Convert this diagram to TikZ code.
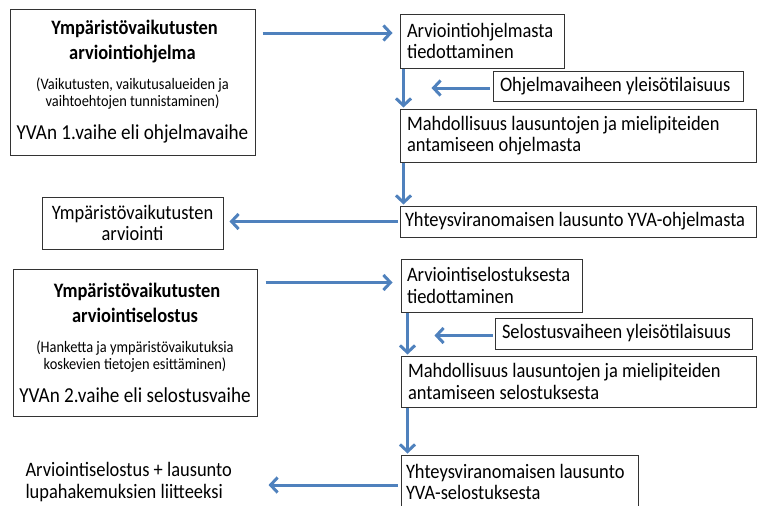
\documentclass[tikz,border=0pt]{standalone}
\usepackage{fontspec}
\setmainfont{Carlito}[FakeStretch=0.9]
\usetikzlibrary{arrows.meta,calc}
\definecolor{arrowblue}{RGB}{79,129,189}

\begin{document}
\begin{tikzpicture}[x=1pt,y=-1pt]
	\tikzset{box/.style = {draw=black!80, line width=1pt, inner xsep=7pt, inner ysep=0pt, align=flush left, font=\fontsize{20.5}{21.5}\selectfont}}
	\tikzset{phase/.style = {box, align=flush center, inner xsep=3pt}}
	\tikzset{flow/.style = {draw=arrowblue, line width=3pt, -{Straight Barb[length=7pt,width=15pt]}}}
	
	\useasboundingbox (0,0) rectangle (758,506);
	
	% phase 1 nodes
	\node[phase, text width=239pt, minimum height=146pt] (A) at (132.5,82) {%
		\vspace{5pt}
		{\fontsize{20.5}{20}\selectfont\bfseries Ympäristövaikutusten\\ arviointiohjelma\par}\vspace{13pt}
		{\fontsize{16}{17}\selectfont (Vaikutusten, vaikutusalueiden ja\\ vaihtoehtojen tunnistaminen)\par}\vspace{11pt}
		{\fontsize{21.3}{22}\selectfont YVAn 1.vaihe eli ohjelmavaihe\par}};
	\node[box, text width=150pt, minimum height=54pt] (B) at (482,41) {Arviointiohjelmasta\\ tiedottaminen};
	\node[box, text width=236pt, minimum height=30pt] (O) at (618,86) {Ohjelmavaiheen yleisötilaisuus};
	\node[box, text width=342pt, minimum height=53pt] (M1) at (578,135.5) {Mahdollisuus lausuntojen ja mielipiteiden\\ antamiseen ohjelmasta};
	\node[box, inner xsep=5pt, text width=346pt, minimum height=31pt] (Y1) at (578,221.5) {Yhteysviranomaisen lausunto YVA-ohjelmasta};
	\node[box, align=flush center, text width=167pt, minimum height=52pt] (E) at (132.5,223) {Ympäristövaikutusten\\ arviointi};
	
	% phase 2 nodes
	\node[phase, text width=238pt, minimum height=147pt] (C) at (135,342.5) {%
		\vspace{5pt}
		{\fontsize{20.5}{20}\selectfont\bfseries Ympäristövaikutusten\\ arviointiselostus\par}\vspace{13pt}
		{\fontsize{16}{17}\selectfont (Hanketta ja ympäristövaikutuksia\\ koskevien tietojen esittäminen)\par}\vspace{11pt}
		{\fontsize{21.3}{22}\selectfont YVAn 2.vaihe eli selostusvaihe\par}};
	\node[box, inner xsep=6pt, text width=169pt, minimum height=53pt] (D) at (491.5,285.5) {Arviointiselostuksesta\\ tiedottaminen};
	\node[box, text width=243pt, minimum height=31pt] (S) at (623.5,333.5) {Selostusvaiheen yleisötilaisuus};
	\node[box, text width=341pt, minimum height=51pt] (M2) at (578.5,381.5) {Mahdollisuus lausuntojen ja mielipiteiden\\ antamiseen selostuksesta};
	\node[box, inner xsep=5pt, text width=227pt, minimum height=54pt] (Y2) at (519.5,482) {Yhteysviranomaisen lausunto\\ YVA-selostuksesta};
	\node[box, draw=none, inner xsep=0pt, anchor=west] (L) at (25,482) {Arviointiselostus + lausunto\\ lupahakemuksien liitteeksi};
	
	% arrows
	\draw[flow] ($(A.east |- B.west)+(7,-8)$) -- ($(B.west)+(-7,-8)$);
	\draw[flow] ($(O.west)+(-3,2)$) -- ($(O.west)+(-61,2)$);
	\draw[flow] ($(B.south west)+(4,0)$) -- ($(M1.north west)+(4,-1)$);
	\draw[flow] ($(M1.south west)+(4,0)$) -- ($(Y1.north west)+(4,-1)$);
	\draw[flow] ($(Y1.west)+(-2,0)$) -- ($(E.east |- Y1.west)+(6,0)$);
	\draw[flow] ($(C.east |- D.west)+(8,-3)$) -- ($(D.west)+(-8,-3)$);
	\draw[flow] ($(S.west)+(-2,2)$) -- ($(S.west)+(-60,2)$);
	\draw[flow] ($(D.south west)+(7,0)$) -- ($(M2.north west)+(7,-1)$);
	\draw[flow] ($(M2.south west)+(7,0)$) -- ($(Y2.north west)+(7,-1)$);
	\draw[flow] ($(Y2.west)+(-3,3)$) -- ($(L.east |- Y2.west)+(36,3)$);
\end{tikzpicture}
\end{document}
